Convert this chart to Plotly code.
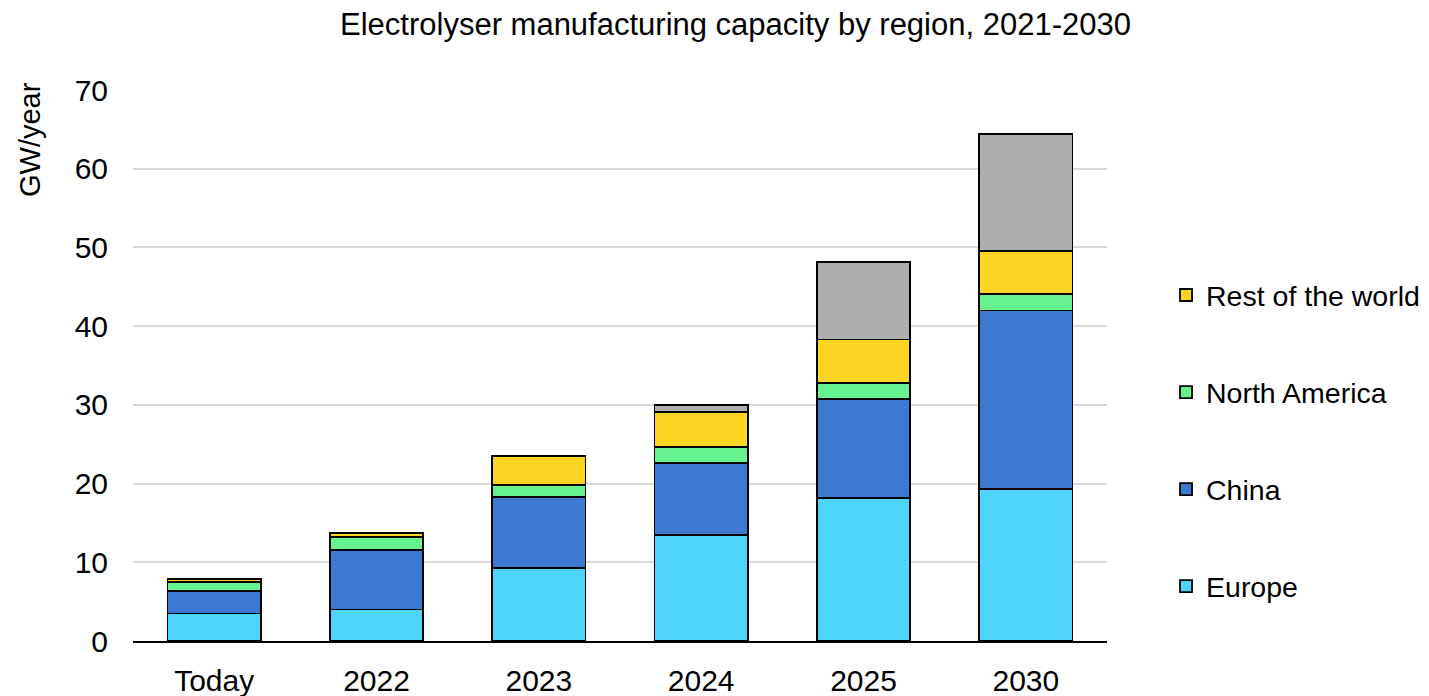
import plotly.graph_objects as go

categories = ["Today", "2022", "2023", "2024", "2025", "2030"]
europe = [3.5, 4.0, 9.3, 13.5, 18.2, 19.3]
china = [2.9, 7.6, 9.0, 9.1, 12.5, 22.7]
north_america = [1.1, 1.6, 1.5, 2.0, 2.1, 2.1]
rest_of_world = [0.4, 0.5, 3.7, 4.5, 5.5, 5.4]
other = [0.0, 0.0, 0.0, 0.9, 9.8, 14.9]

series = [
    ("Europe", europe, "#4DD5FF", True, 4),
    ("China", china, "#3C7AD2", True, 3),
    ("North America", north_america, "#66F28F", True, 2),
    ("Rest of the world", rest_of_world, "#FCD422", True, 1),
    ("Other", other, "#AEAEAE", False, 5),
]

fig = go.Figure()
for name, vals, color, show, rank in series:
    fig.add_trace(go.Bar(
        x=categories, y=vals, name=name, legendgroup=name,
        showlegend=show, legendrank=rank,
        marker=dict(color=color, line=dict(color="#000000", width=1.8)),
    ))

FONT = "Liberation Sans, Arial, sans-serif"
fig.update_layout(
    barmode="stack",
    bargap=0.426,
    width=1429, height=696,
    paper_bgcolor="white", plot_bgcolor="white",
    font=dict(family=FONT, size=30, color="#000000"),
    title=dict(text="Electrolyser manufacturing capacity by region, 2021-2030",
               x=(727.5 / 1429), xanchor="center", y=1 - 16 / 696, yanchor="middle",
               font=dict(size=31)),
    margin=dict(l=125, r=330, t=82, b=63, autoexpand=False),
    showlegend=True,
    legend=dict(traceorder="grouped", tracegroupgap=57,
                x=1.0606, xanchor="left", y=(633 - 433) / 551, yanchor="middle",
                font=dict(size=28.5), itemwidth=30),
    yaxis=dict(range=[0, 70], dtick=10, showgrid=True, gridcolor="#D9D9D9",
               gridwidth=2, zeroline=False, showline=False, ticks="",
               ticklen=0, tickfont=dict(size=30), ticklabelstandoff=24,
               automargin=False),
    xaxis=dict(showline=True, linecolor="#000000", linewidth=2, ticks="",
               tickfont=dict(size=30), ticklabelstandoff=12, automargin=False),
    annotations=[dict(text="GW/year", textangle=-90, xref="paper", yref="paper",
                      x=(22 - 125) / 974, y=(633 - 132) / 551,
                      xanchor="center", yanchor="middle", showarrow=False,
                      font=dict(size=29))],
)

fig.write_html("out.html")
